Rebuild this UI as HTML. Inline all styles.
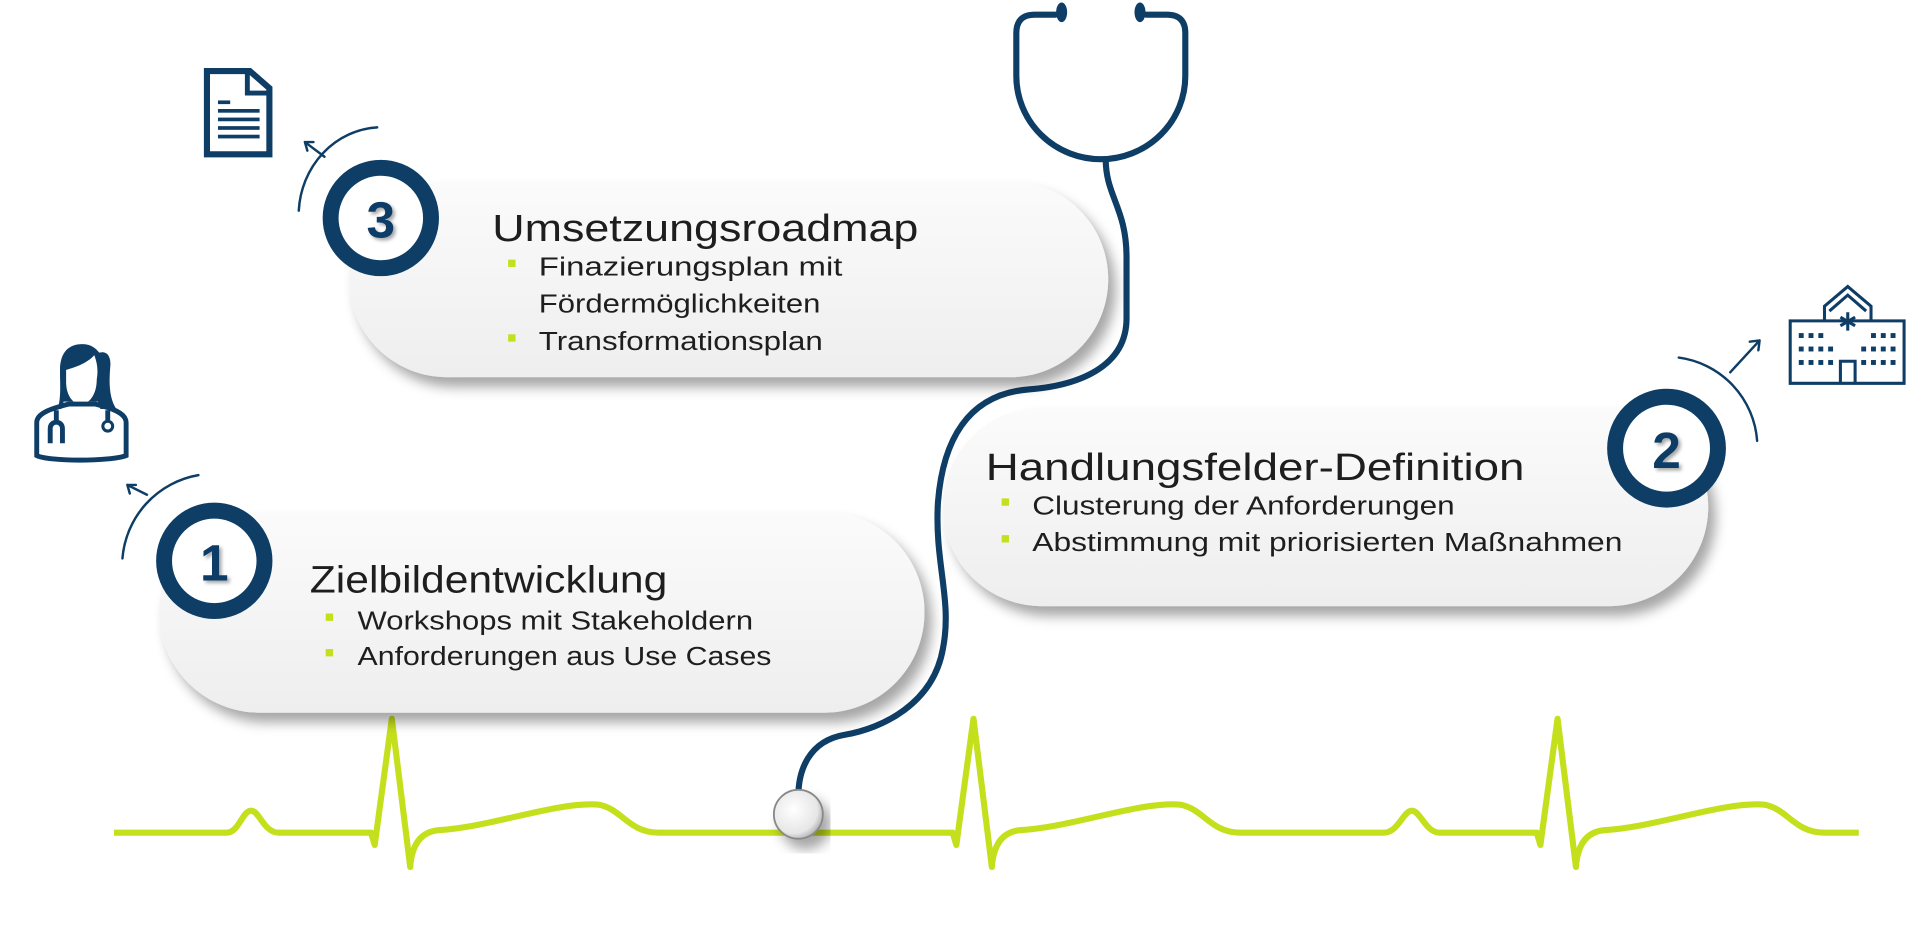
<!DOCTYPE html>
<html><head><meta charset="utf-8"><style>
html,body{margin:0;padding:0;background:#fff;width:1920px;height:927px;overflow:hidden}
svg{display:block}
.t{font-family:"Liberation Sans",sans-serif;fill:#1e1e1e}
</style></head><body>
<svg width="1920" height="927" viewBox="0 0 1568 757" xmlns="http://www.w3.org/2000/svg">
<defs>
<linearGradient id="pg" x1="0" y1="0" x2="0" y2="1"><stop offset="0" stop-color="#fbfbfb"/><stop offset="1" stop-color="#eeeeee"/></linearGradient>
<filter id="sh" x="-10%" y="-20%" width="125%" height="150%"><feDropShadow dx="6" dy="8" stdDeviation="5" flood-color="#000" flood-opacity="0.35"/></filter>
<filter id="ts" x="-20%" y="-20%" width="150%" height="150%"><feDropShadow dx="2" dy="2" stdDeviation="1.5" flood-color="#000" flood-opacity="0.35"/></filter>
<radialGradient id="cp" cx="0.4" cy="0.4" r="0.7"><stop offset="0" stop-color="#ffffff"/><stop offset="0.7" stop-color="#e6e6e6"/><stop offset="1" stop-color="#9a9a9a"/></radialGradient>
</defs>

<!-- ECG -->
<path fill="none" stroke="#c4df1c" stroke-width="5" stroke-linejoin="round" d="M93,680 L185,680 C195,680 198,662 205,662 C212,662 215,680 228,680 L303,680 L306,690 L320,587 L335,708 Q337,680 358,678 C403,675 453,655 488,657 C508,660 513,680 538,680 L778,680 L781,690 L795,587 L810,708 Q812,680 833,678 C878,675 928,655 963,657 C983,660 988,680 1013,680 L1130,680 C1142,680 1146,662 1153,662 C1160,662 1164,680 1176,680 L1255,680 L1258,690 L1272,587 L1287,708 Q1289,680 1310,678 C1355,675 1405,655 1440,657 C1460,660 1465,680 1490,680 L1518,680"/>

<!-- Stethoscope -->
<g fill="none" stroke="#0e3d66" stroke-width="5" stroke-linecap="round">
<path d="M862,12 L845,12 Q830,12 830,27 L830,62 A69,68 0 0 0 968,62 L968,27 Q968,12 953,12 L936,12"/>
<path d="M903,130 C903,160 920,170 920,210 L920,260 C920,300 880,315 840,318 C790,322 770,360 766,410 C763,460 778,490 770,530 C762,575 720,595 690,600 C660,605 652,630 652,650"/>
</g>
<ellipse cx="867" cy="10" rx="4.5" ry="8" fill="#0e3d66"/>
<ellipse cx="931" cy="10" rx="4.5" ry="8" fill="#0e3d66"/>
<circle cx="652" cy="665" r="20" fill="url(#cp)" stroke="#888" stroke-width="1.5" filter="url(#sh)"/>

<!-- Pills -->
<rect x="285" y="148" width="620" height="160" rx="80" fill="url(#pg)" filter="url(#sh)"/>
<rect x="770" y="333" width="625" height="162" rx="81" fill="url(#pg)" filter="url(#sh)"/>
<rect x="130" y="418" width="625" height="164" rx="82" fill="url(#pg)" filter="url(#sh)"/>

<!-- Circles -->
<g>
<circle cx="311" cy="178" r="41" fill="#fff" stroke="#0e3d66" stroke-width="13"/>
<text x="311" y="194" text-anchor="middle" font-family="Liberation Sans,sans-serif" font-weight="bold" font-size="42" fill="#0e3d66" filter="url(#ts)">3</text>
<circle cx="1361" cy="366" r="42" fill="#fff" stroke="#0e3d66" stroke-width="13"/>
<text x="1361" y="382" text-anchor="middle" font-family="Liberation Sans,sans-serif" font-weight="bold" font-size="42" fill="#0e3d66" filter="url(#ts)">2</text>
<circle cx="175" cy="458" r="41" fill="#fff" stroke="#0e3d66" stroke-width="13"/>
<text x="175" y="474" text-anchor="middle" font-family="Liberation Sans,sans-serif" font-weight="bold" font-size="42" fill="#0e3d66" filter="url(#ts)">1</text>
</g>

<!-- Arcs + arrows -->
<g fill="none" stroke="#0e3d66" stroke-width="2" stroke-linecap="round">
<path d="M100,456 A75,75 0 0 1 162,388"/>
<path d="M120,404 L104,396 M104,396 L111,396 M104,396 L106,403"/>
<path d="M244,172 A68,72 0 0 1 308,104"/>
<path d="M265,128 L249,116 M249,116 L256,116 M249,116 L251,123"/>
<path d="M1371,292 A74,74 0 0 1 1435,360"/>
<path d="M1413,304 L1437,278 M1437,278 L1429,279 M1437,278 L1436,286"/>
</g>

<!-- Texts -->
<text class="t" x="402" y="197" font-size="31" textLength="348" lengthAdjust="spacingAndGlyphs">Umsetzungsroadmap</text>
<rect x="415" y="212" width="6" height="6" fill="#c4df1c"/>
<text class="t" x="440" y="225" font-size="21" textLength="248" lengthAdjust="spacingAndGlyphs">Finazierungsplan mit</text>
<text class="t" x="440" y="255" font-size="21" textLength="230" lengthAdjust="spacingAndGlyphs">Fördermöglichkeiten</text>
<rect x="415" y="273" width="6" height="6" fill="#c4df1c"/>
<text class="t" x="440" y="286" font-size="21" textLength="232" lengthAdjust="spacingAndGlyphs">Transformationsplan</text>

<text class="t" x="805" y="392" font-size="31" textLength="440" lengthAdjust="spacingAndGlyphs">Handlungsfelder-Definition</text>
<rect x="818" y="407" width="6" height="6" fill="#c4df1c"/>
<text class="t" x="843" y="420" font-size="21" textLength="345" lengthAdjust="spacingAndGlyphs">Clusterung der Anforderungen</text>
<rect x="818" y="437" width="6" height="6" fill="#c4df1c"/>
<text class="t" x="843" y="450" font-size="21" textLength="482" lengthAdjust="spacingAndGlyphs">Abstimmung mit priorisierten Maßnahmen</text>

<text class="t" x="253" y="484" font-size="31" textLength="292" lengthAdjust="spacingAndGlyphs">Zielbildentwicklung</text>
<rect x="266" y="501" width="6" height="6" fill="#c4df1c"/>
<text class="t" x="292" y="514" font-size="21" textLength="323" lengthAdjust="spacingAndGlyphs">Workshops mit Stakeholdern</text>
<rect x="266" y="530" width="6" height="6" fill="#c4df1c"/>
<text class="t" x="292" y="543" font-size="21" textLength="338" lengthAdjust="spacingAndGlyphs">Anforderungen aus Use Cases</text>

<!-- Document icon -->
<g fill="none" stroke="#0e3d66" stroke-width="5">
<path d="M169,58 L204,58 L220,72 L220,126 L169,126 Z"/>
<path d="M202,58 L202,76 L220,76" stroke-width="4"/>
</g>
<g fill="#0e3d66">
<rect x="178" y="82" width="10" height="3"/>
<rect x="178" y="89" width="34" height="3"/>
<rect x="178" y="96" width="34" height="3"/>
<rect x="178" y="103" width="34" height="3"/>
<rect x="178" y="110" width="34" height="3"/>
</g>

<!-- Doctor icon -->
<path fill="#0e3d66" d="M47,334 C50,325 49,315 49,302 C49,288 56,281 67,281 C74,281 78,284 81,288 C88,286 91,292 90,300 C89,312 89,325 95,334 L82,334 L80,328 L52,328 L50,334 Z"/>
<path fill="#fff" d="M54,302 C62,300 72,296 77,290 C80,298 80,304 79,310 C79,322 73,330 66,330 C59,330 54,322 54,312 Z"/>
<g fill="none" stroke="#0e3d66" stroke-width="4">
<path d="M30,345 C30,337 44,333 56,330 L78,330 C90,333 103,337 103,345 L103,372 C90,377 40,377 30,372 Z"/>
<path d="M46,335 L46,345 M41,362 L41,350 C41,343 51,343 51,350 L51,362"/>
<path d="M88,335 L88,343"/>
</g>
<circle cx="88" cy="348" r="4" fill="none" stroke="#0e3d66" stroke-width="2.5"/>

<!-- Hospital icon -->
<g fill="none" stroke="#0e3d66" stroke-width="2.5">
<path d="M1462,262 L1555,262 L1555,313 L1462,313 Z"/>
<path d="M1490,262 L1490,250 L1509,234 L1528,250 L1528,262"/>
<path d="M1494,254 L1509,241 L1524,254"/>
<path d="M1503,313 L1503,295 L1515,295 L1515,313"/>
<path d="M1509,255 L1509,270 M1503,259 L1515,266 M1515,259 L1503,266"/>
</g>
<g fill="#0e3d66">
<rect x="1469" y="272" width="4" height="4"/><rect x="1477" y="272" width="4" height="4"/><rect x="1485" y="272" width="4" height="4"/>
<rect x="1469" y="283" width="4" height="4"/><rect x="1477" y="283" width="4" height="4"/><rect x="1485" y="283" width="4" height="4"/><rect x="1493" y="283" width="4" height="4"/>
<rect x="1469" y="294" width="4" height="4"/><rect x="1477" y="294" width="4" height="4"/><rect x="1485" y="294" width="4" height="4"/><rect x="1493" y="294" width="4" height="4"/>
<rect x="1528" y="272" width="4" height="4"/><rect x="1536" y="272" width="4" height="4"/><rect x="1544" y="272" width="4" height="4"/>
<rect x="1520" y="283" width="4" height="4"/><rect x="1528" y="283" width="4" height="4"/><rect x="1536" y="283" width="4" height="4"/><rect x="1544" y="283" width="4" height="4"/>
<rect x="1520" y="294" width="4" height="4"/><rect x="1528" y="294" width="4" height="4"/><rect x="1536" y="294" width="4" height="4"/><rect x="1544" y="294" width="4" height="4"/>
</g>
</svg>
</body></html>
